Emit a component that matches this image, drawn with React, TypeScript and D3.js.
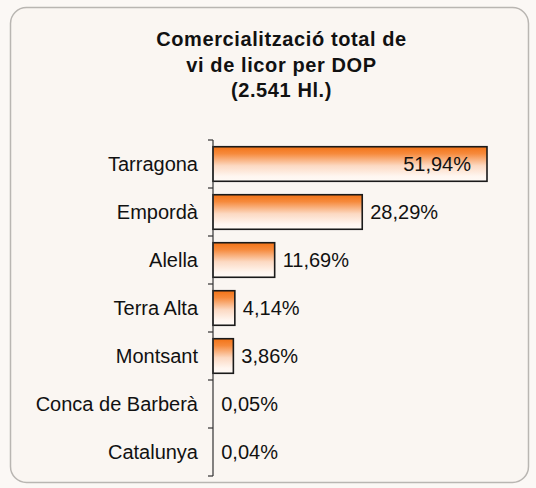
import React from "react";
import * as d3 from "d3";

const categories = ["Tarragona", "Empordà", "Alella", "Terra Alta", "Montsant", "Conca de Barberà", "Catalunya"];
const values = [51.94, 28.29, 11.69, 4.14, 3.86, 0.05, 0.04];
const valueLabels = ["51,94%", "28,29%", "11,69%", "4,14%", "3,86%", "0,05%", "0,04%"];
const titleLines = ["Comercialització total de", "vi de licor per DOP", "(2.541 Hl.)"];

const W = 536, H = 488;
const m = { left: 213, top: 140, bottom: 476 };

export default function App() {
  const x = d3.scaleLinear().domain([0, 51.94]).range([m.left, 487]);
  const y = d3.scaleBand().domain(categories).range([m.top, m.bottom]).paddingInner(0.28).paddingOuter(0.14);
  const step = y.step();
  const font = "'Liberation Sans', Arial, sans-serif";
  return (
    <svg width={W} height={H} style={{ position: "absolute", left: 0, top: 0 }} fontFamily={font}>
      <defs>
        <linearGradient id="barGrad" x1="0" y1="0" x2="0" y2="1">
          <stop offset="0" stopColor="#f37216" />
          <stop offset="0.2" stopColor="#f68a3c" />
          <stop offset="0.55" stopColor="#fcd9c2" />
          <stop offset="0.85" stopColor="#fff6f0" />
          <stop offset="1" stopColor="#fffaf6" />
        </linearGradient>
      </defs>
      <rect x={0} y={0} width={W} height={H} fill="#fbf8f5" />
      <rect x={10.5} y={7.5} width={518} height={475} rx={16} fill="#faf6f2" stroke="#b9b6b2" strokeWidth={1.5} />
      <g textAnchor="middle" fontWeight="bold" fontSize={20} fill="#111">
        {titleLines.map((t, i) => (
          <text key={i} x={281.5} y={46 + i * 25.5} letterSpacing={0.6}>{t}</text>
        ))}
      </g>
      {categories.map((c, i) => {
        const v = values[i];
        const y0 = y(c)!;
        const bw = y.bandwidth();
        const x1 = x(v);
        const inside = i === 0;
        return (
          <g key={c}>
            {v > 1 && (
              <rect x={m.left} y={y0} width={x1 - m.left} height={bw} fill="url(#barGrad)" stroke="#1a1a1a" strokeWidth={1.6} />
            )}
            <text x={198} y={y0 + bw / 2} dy="0.35em" textAnchor="end" fontSize={20} fill="#111">{c}</text>
            <text x={inside ? x1 - 16 : x1 + 8} y={y0 + bw / 2} dy="0.35em" textAnchor={inside ? "end" : "start"} fontSize={20} fill="#111">{valueLabels[i]}</text>
          </g>
        );
      })}
      <line x1={m.left} x2={m.left} y1={m.top} y2={m.bottom} stroke="#333" strokeWidth={1.2} />
      {d3.range(categories.length + 1).map((k) => (
        <line key={k} x1={m.left - 5} x2={m.left} y1={m.top + k * step} y2={m.top + k * step} stroke="#333" strokeWidth={1.2} />
      ))}
    </svg>
  );
}
